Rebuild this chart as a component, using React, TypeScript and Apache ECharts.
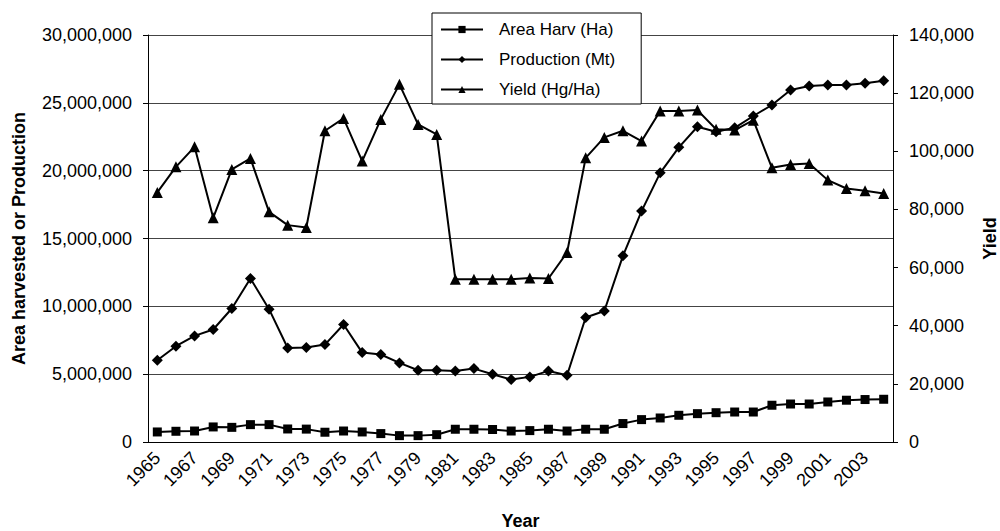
import React, { useEffect, useRef } from "react";
import * as echarts from "echarts";

const years = [
  "1965", "1966", "1967", "1968", "1969", "1970", "1971", "1972", "1973", "1974",
  "1975", "1976", "1977", "1978", "1979", "1980", "1981", "1982", "1983", "1984",
  "1985", "1986", "1987", "1988", "1989", "1990", "1991", "1992", "1993", "1994",
  "1995", "1996", "1997", "1998", "1999", "2000", "2001", "2002", "2003", "2004",
];

const areaHarv = [
  740000, 790000, 810000, 1110000, 1080000, 1280000, 1280000, 960000, 950000, 720000,
  810000, 740000, 620000, 470000, 470000, 540000, 940000, 940000, 920000, 810000,
  840000, 940000, 810000, 940000, 940000, 1360000, 1650000, 1770000, 1970000, 2090000,
  2160000, 2210000, 2210000, 2710000, 2800000, 2800000, 2950000, 3080000, 3130000, 3150000,
];

const production = [
  6030000, 7060000, 7820000, 8290000, 9840000, 12050000, 9790000, 6930000, 6960000, 7180000,
  8660000, 6590000, 6450000, 5830000, 5290000, 5290000, 5240000, 5410000, 4990000, 4600000,
  4800000, 5240000, 4920000, 9180000, 9660000, 13720000, 17020000, 19840000, 21720000, 23240000,
  22870000, 23160000, 24030000, 24840000, 25940000, 26240000, 26310000, 26310000, 26440000, 26630000,
];

const yieldVals = [
  85850, 94650, 101540, 77100, 93760, 97550, 79170, 74600, 73800, 107050,
  111300, 96620, 110970, 123020, 109250, 105800, 56000, 56000, 56000, 56000,
  56450, 56240, 65190, 97750, 104770, 107050, 103500, 113830, 113830, 114170,
  107600, 107300, 110700, 94300, 95470, 95820, 90080, 87210, 86400, 85500,
];

const seriesNames = ["Area Harv (Ha)", "Production (Mt)", "Yield (Hg/Ha)"];
const leftAxisName = "Area harvested or Production";
const rightAxisName = "Yield";
const xAxisName = "Year";

const FONT = "'Liberation Sans', Arial, sans-serif";
const fmt = (v: number) => v.toLocaleString("en-US");

export default function App() {
  const ref = useRef<HTMLDivElement>(null);

  useEffect(() => {
    if (!ref.current) return;
    const chart = echarts.init(ref.current, undefined, { renderer: "svg" });
    const lineCommon = {
      type: "line" as const,
      lineStyle: { color: "#000", width: 2 },
      itemStyle: { color: "#000" },
      showSymbol: true,
    };
    chart.setOption({
      animation: false,
      backgroundColor: "#fff",
      textStyle: { fontFamily: FONT },
      grid: { left: 148, right: 107, top: 35, bottom: 89, outerBoundsMode: "none", containLabel: false },
      legend: {
        orient: "vertical",
        left: 432,
        top: 13,
        data: seriesNames,
        backgroundColor: "#fff",
        borderColor: "#000",
        borderWidth: 1,
        padding: [8, 26, 6, 8],
        itemWidth: 42,
        itemHeight: 9,
        itemGap: 13,
        textStyle: { fontSize: 17, color: "#000", fontFamily: FONT, padding: [0, 0, 0, 11], lineHeight: 17 },
      },
      xAxis: {
        type: "category",
        data: years,
        boundaryGap: true,
        name: xAxisName,
        nameLocation: "middle",
        nameGap: 70,
        nameTextStyle: { fontSize: 18, fontWeight: "bold", color: "#000", fontFamily: FONT },
        axisLine: { lineStyle: { color: "#000", width: 1 } },
        axisTick: { interval: 0, length: 5, lineStyle: { color: "#000" } },
        axisLabel: { interval: 1, rotate: 45, fontSize: 18, color: "#000", margin: 13, fontFamily: FONT },
        splitLine: { show: false },
      },
      yAxis: [
        {
          type: "value",
          min: 0,
          max: 30000000,
          interval: 5000000,
          name: leftAxisName,
          nameLocation: "middle",
          nameRotate: 90,
          nameGap: 120,
          nameTextStyle: { fontSize: 18, fontWeight: "bold", color: "#000", fontFamily: FONT },
          axisLine: { show: true, lineStyle: { color: "#000", width: 1 } },
          axisTick: { show: true, length: 5, lineStyle: { color: "#000" } },
          axisLabel: { formatter: fmt, fontSize: 18, color: "#000", margin: 16, fontFamily: FONT },
          splitLine: { show: true, lineStyle: { color: "#444", width: 1 } },
        },
        {
          type: "value",
          min: 0,
          max: 140000,
          interval: 20000,
          position: "right",
          name: rightAxisName,
          nameLocation: "middle",
          nameRotate: 90,
          nameGap: 88,
          nameMoveOverlap: false,
          nameTextStyle: { fontSize: 18, fontWeight: "bold", color: "#000", fontFamily: FONT },
          axisLine: { show: true, lineStyle: { color: "#000", width: 1 } },
          axisTick: { show: true, length: 5, lineStyle: { color: "#000" } },
          axisLabel: { formatter: fmt, fontSize: 18, color: "#000", margin: 16, fontFamily: FONT },
          splitLine: { show: false },
        },
      ],
      series: [
        { ...lineCommon, name: seriesNames[0], yAxisIndex: 0, data: areaHarv, symbol: "rect", symbolSize: 9 },
        { ...lineCommon, name: seriesNames[1], yAxisIndex: 0, data: production, symbol: "diamond", symbolSize: 11 },
        { ...lineCommon, name: seriesNames[2], yAxisIndex: 1, data: yieldVals, symbol: "triangle", symbolSize: 11 },
      ],
    });
    return () => chart.dispose();
  }, []);

  return (
    <div
      ref={ref}
      style={{ position: "fixed", left: 0, top: 0, width: 1000, height: 531, background: "#fff" }}
    />
  );
}
